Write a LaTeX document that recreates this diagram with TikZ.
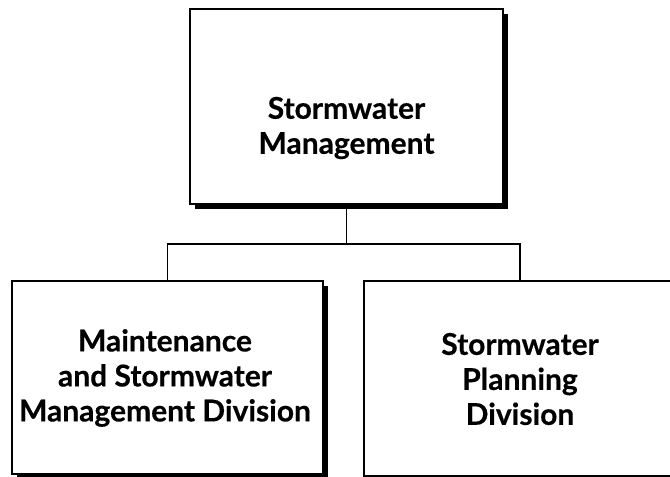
\documentclass[tikz,border=0pt]{standalone}
\usepackage{fontspec}
\setmainfont{Lato}[BoldFeatures={FakeBold=0.4}]
\usetikzlibrary{shadows}
\begin{document}
\begin{tikzpicture}[x=1pt,y=-1pt,
  orgbox/.style={draw=black, line width=1.5pt, fill=white, inner sep=0pt,
    drop shadow={shadow xshift=4.5pt, shadow yshift=-4.5pt, fill=black, opacity=1}},
  boxtext/.style={align=center, font=\fontsize{30}{35}\selectfont\bfseries, inner sep=0pt},
  conn/.style={draw=black, line width=1.2pt}]
\useasboundingbox (0,0) rectangle (670,477);
\node[orgbox, minimum width=313pt, minimum height=195pt] (top) at (346.5,106.5) {};
\node[orgbox, minimum width=311pt, minimum height=193pt] (left) at (167.5,377.5) {};
\node[orgbox, minimum width=312pt, minimum height=195pt] (right) at (520,378.5) {};
\coordinate (j) at (346.5,244);
\draw[conn] (top.south) -- (j);
\draw[conn] (j) -| (left.north);
\draw[conn] (j) -| (right.north);
\node[boxtext] (toptext) at (346.5,128) {Stormwater\\Management};
\node[boxtext] (lefttext) at (165,378) {Maintenance\\and Stormwater\\Management Division};
\node[boxtext] (righttext) at (520,379) {Stormwater\\Planning\\Division};
\end{tikzpicture}
\end{document}
